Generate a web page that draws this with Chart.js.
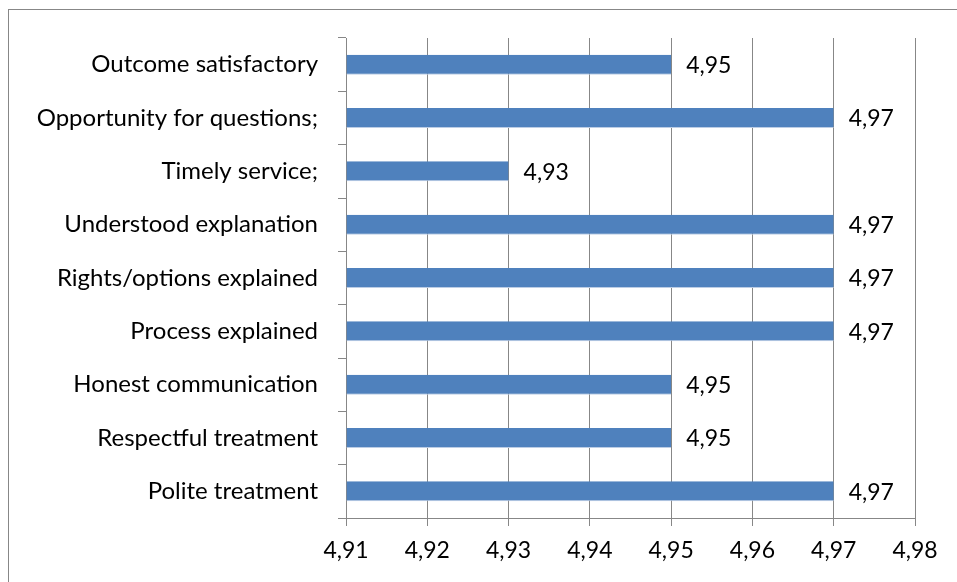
<!DOCTYPE html>
<html>
<head>
<meta charset="utf-8">
<script src="https://cdn.jsdelivr.net/npm/chart.js@4"></script>
<style>
  html, body { margin: 0; padding: 0; background: #fff; }
  #wrap { position: relative; width: 957px; height: 582px; overflow: hidden; }
  #frame { position: absolute; left: 8px; top: 9px; width: 1000px; height: 700px; border: 1px solid #878787; box-sizing: border-box; }
  canvas { position: absolute; left: 0; top: 0; }
</style>
</head>
<body>
<div id="wrap">
  <div id="frame"></div>
  <canvas id="c" width="957" height="582"></canvas>
</div>
<script>
const categories = [
  "Outcome satisfactory",
  "Opportunity for questions;",
  "Timely service;",
  "Understood explanation",
  "Rights/options explained",
  "Process explained",
  "Honest communication",
  "Respectful treatment",
  "Polite treatment"
];
const values = [4.95, 4.97, 4.93, 4.97, 4.97, 4.97, 4.95, 4.95, 4.97];
const axisMin = 4.91, axisMax = 4.98, axisStep = 0.01;

const FONT = "Lato, 'Open Sans', sans-serif";
const fmt = v => Number(v).toFixed(2).replace('.', ',');

const labelPlugin = {
  id: 'barLabels',
  afterDatasetsDraw(chart) {
    const ctx = chart.ctx;
    const meta = chart.getDatasetMeta(0);
    ctx.save();
    ctx.font = "23px " + FONT;
    ctx.fillStyle = "#000";
    ctx.textAlign = "left";
    ctx.textBaseline = "middle";
    meta.data.forEach((bar, i) => {
      ctx.fillText(fmt(values[i]), bar.x + 15, bar.y + 1);
    });
    ctx.restore();
  }
};

new Chart(document.getElementById('c'), {
  type: 'bar',
  data: {
    labels: categories,
    datasets: [{
      data: values,
      backgroundColor: '#4F81BD',
      borderColor: '#BCCDE5',
      borderWidth: {bottom: 1, top: 0, left: 0, right: 0},
      borderSkipped: false,
      barPercentage: 0.375,
      categoryPercentage: 1.0,
      base: axisMin
    }]
  },
  options: {
    indexAxis: 'y',
    responsive: false,
    animation: false,
    devicePixelRatio: 1,
    layout: { padding: { left: 0, right: 42, top: 38, bottom: 0 } },
    plugins: { legend: { display: false }, tooltip: { enabled: false } },
    scales: {
      x: {
        min: axisMin, max: axisMax,
        ticks: {
          stepSize: axisStep,
          callback: v => fmt(v),
          color: '#000',
          font: { family: FONT, size: 23 },
          padding: 11
        },
        grid: { color: '#878787', lineWidth: 1, tickLength: 8, drawTicks: true },
        border: { color: '#878787', width: 1 },
        afterFit(scale) { scale.height = 64; }
      },
      y: {
        ticks: {
          color: '#000',
          font: { family: FONT, size: 24 },
          padding: 20
        },
        grid: { offset: true, drawOnChartArea: false, color: '#878787', tickLength: 8 },
        border: { color: '#878787', width: 1 },
        afterFit(scale) { scale.width = 346; }
      }
    }
  },
  plugins: [labelPlugin]
});
</script>
</body>
</html>
